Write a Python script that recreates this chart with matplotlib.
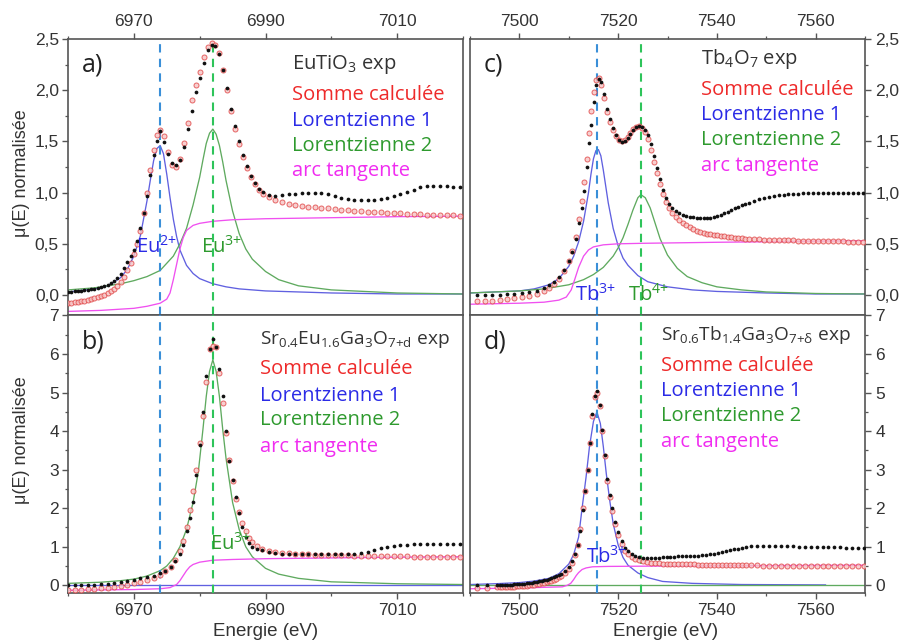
import matplotlib
matplotlib.use('Agg')
import matplotlib.pyplot as plt
from matplotlib.ticker import MultipleLocator, FuncFormatter

plt.rcParams['font.family'] = ['Liberation Sans', 'DejaVu Sans']
plt.rcParams['mathtext.default'] = 'regular'

# ---------------- DATA ----------------
# Panel a) EuTiO3
a_E = [6960, 6960.5, 6961, 6961.5, 6962, 6962.5, 6963, 6963.5, 6964, 6964.5,
       6965, 6965.5, 6966, 6966.5, 6967, 6967.5, 6968, 6968.5, 6969, 6969.5,
       6970, 6970.5, 6971, 6971.5, 6972, 6972.5, 6973, 6973.5, 6974,
       6974.6, 6975.2, 6975.8, 6976.4, 6977, 6977.6, 6978.2, 6978.8, 6979.4, 6980,
       6980.6, 6981.2, 6981.8, 6982.4, 6983, 6983.6, 6984.2, 6984.8, 6985.4, 6986,
       6986.6, 6987.2, 6987.8, 6988.4, 6989, 6989.6,
       6990.5, 6991.5, 6992.5, 6993.5, 6994.5, 6995.5, 6996.5, 6997.5, 6998.5, 6999.5,
       7000.5, 7001.5, 7002.5, 7003.5, 7004.5, 7005.5, 7006.5, 7007.5, 7008.5, 7009.5,
       7010.5, 7011.5, 7012.5, 7013.5, 7014.5, 7015.5, 7016.5, 7017.5, 7018.5, 7019.5]
a_exp = [0.03, 0.032, 0.035, 0.037, 0.04, 0.045, 0.05, 0.055, 0.06, 0.07,
         0.08, 0.09, 0.10, 0.12, 0.14, 0.17, 0.21, 0.26, 0.32, 0.38,
         0.44, 0.53, 0.65, 0.80, 0.97, 1.17, 1.37, 1.50, 1.60,
         1.49, 1.38, 1.29, 1.27, 1.32, 1.45, 1.62, 1.80, 1.98, 2.12,
         2.27, 2.39, 2.44, 2.43, 2.35, 2.20, 2.02, 1.82, 1.65, 1.50,
         1.37, 1.26, 1.16, 1.09, 1.04, 1.01,
         0.98, 0.97, 0.98, 0.99, 0.99, 1.00, 1.00, 1.00, 1.00, 0.99,
         0.97, 0.95, 0.94, 0.93, 0.93, 0.93, 0.93, 0.94, 0.95, 0.97,
         0.99, 1.01, 1.03, 1.05, 1.06, 1.06, 1.06, 1.06, 1.05, 1.05]
a_calc = [-0.08, -0.075, -0.07, -0.065, -0.06, -0.055, -0.05, -0.04, -0.03, -0.02,
          -0.01, 0.005, 0.02, 0.04, 0.06, 0.09, 0.13, 0.18, 0.24, 0.31,
          0.40, 0.50, 0.63, 0.80, 1.00, 1.22, 1.42, 1.56, 1.61,
          1.55, 1.40, 1.27, 1.25, 1.33, 1.48, 1.68, 1.90, 2.05, 2.18,
          2.32, 2.42, 2.46, 2.44, 2.36, 2.20, 2.00, 1.80, 1.62, 1.47,
          1.35, 1.24, 1.15, 1.08, 1.03, 0.99,
          0.96, 0.93, 0.91, 0.89, 0.88, 0.87, 0.86, 0.855, 0.85, 0.845,
          0.84, 0.835, 0.83, 0.825, 0.82, 0.815, 0.81, 0.81, 0.805, 0.80,
          0.80, 0.795, 0.79, 0.79, 0.785, 0.785, 0.78, 0.78, 0.78, 0.775]
a_L1_E = [6960, 6964, 6966, 6968, 6969, 6970, 6971, 6972, 6972.5, 6973, 6973.5, 6974,
          6974.5, 6975, 6975.5, 6976, 6976.5, 6977, 6978, 6979, 6980, 6982, 6984,
          6986, 6990, 7000, 7010, 7020]
a_L1 = [0.03, 0.06, 0.09, 0.17, 0.25, 0.38, 0.58, 0.92, 1.12, 1.31, 1.43, 1.46,
        1.38, 1.18, 0.95, 0.74, 0.57, 0.44, 0.29, 0.21, 0.16, 0.11, 0.08,
        0.06, 0.04, 0.02, 0.01, 0.01]
a_L2_E = [6960, 6964, 6968, 6970, 6972, 6974, 6976, 6977, 6978, 6979, 6980, 6980.5,
          6981, 6981.5, 6982, 6982.5, 6983, 6983.5, 6984, 6985, 6986, 6987, 6988,
          6990, 6992, 6995, 7000, 7010, 7020]
a_L2 = [0.05, 0.07, 0.11, 0.14, 0.18, 0.24, 0.38, 0.50, 0.65, 0.88, 1.15, 1.32,
        1.48, 1.58, 1.62, 1.57, 1.46, 1.30, 1.12, 0.82, 0.60, 0.45, 0.35,
        0.23, 0.15, 0.09, 0.05, 0.02, 0.01]
a_AT_E = [6960, 6965, 6970, 6972, 6974, 6975, 6975.5, 6976, 6976.5, 6977, 6977.5,
          6978, 6979, 6980, 6982, 6985, 6990, 7000, 7010, 7020]
a_AT = [-0.16, -0.15, -0.13, -0.11, -0.08, -0.04, 0.02, 0.15, 0.30, 0.45, 0.56,
        0.63, 0.68, 0.70, 0.72, 0.735, 0.745, 0.755, 0.765, 0.77]

# Panel b) Sr0.4Eu1.6Ga3O7+d
b_E = [6960, 6961, 6962, 6963, 6964, 6965, 6966, 6967, 6968, 6969,
       6970, 6971, 6972, 6973, 6974, 6974.8, 6975.6, 6976.3, 6977, 6977.5,
       6978, 6978.5, 6979, 6979.5, 6980, 6980.5, 6981, 6981.5, 6982, 6982.5,
       6983, 6983.5, 6984, 6984.5, 6985, 6985.5, 6986, 6986.5, 6987, 6987.5,
       6988, 6988.7, 6989.5, 6990.5, 6991.5, 6992.5, 6993.5, 6994.5, 6995.5, 6996.5,
       6997.5, 6998.5, 6999.5, 7000.5, 7001.5, 7002.5, 7003.5, 7004.5, 7005.5, 7006.5,
       7007.5, 7008.5, 7009.5, 7010.5, 7011.5, 7012.5, 7013.5, 7014.5, 7015.5, 7016.5,
       7017.5, 7018.5, 7019.5]
b_exp = [0.00, 0.00, 0.00, 0.01, 0.02, 0.03, 0.04, 0.06, 0.08, 0.11,
         0.15, 0.18, 0.21, 0.25, 0.31, 0.38, 0.48, 0.62, 0.80, 1.05,
         1.40, 1.75, 2.15, 2.85, 3.65, 4.50, 5.42, 6.13, 6.40, 6.17,
         5.62, 4.90, 4.00, 3.23, 2.73, 2.30, 1.88, 1.52, 1.26, 1.10,
         1.00, 0.95, 0.91, 0.86, 0.83, 0.81, 0.81, 0.80, 0.80, 0.80,
         0.80, 0.80, 0.80, 0.80, 0.81, 0.81, 0.81, 0.83, 0.87, 0.92,
         0.96, 0.99, 1.02, 1.04, 1.05, 1.06, 1.07, 1.07, 1.08, 1.08,
         1.08, 1.08, 1.08]
b_calc = [-0.13, -0.12, -0.11, -0.10, -0.09, -0.08, -0.06, -0.04, -0.02, 0.01,
          0.05, 0.09, 0.14, 0.20, 0.28, 0.36, 0.48, 0.65, 0.88, 1.15,
          1.50, 1.95, 2.45, 3.00, 3.70, 4.40, 5.27, 6.14, 6.22, 6.18,
          5.50, 4.74, 3.95, 3.25, 2.70, 2.25, 1.90, 1.62, 1.40, 1.24,
          1.12, 1.02, 0.95, 0.90, 0.87, 0.85, 0.83, 0.82, 0.81, 0.80,
          0.795, 0.79, 0.785, 0.78, 0.78, 0.775, 0.77, 0.77, 0.765, 0.76,
          0.76, 0.755, 0.75, 0.75, 0.75, 0.745, 0.745, 0.74, 0.74, 0.74,
          0.74, 0.74, 0.74]
b_L1_E = [6960, 6990, 7020]
b_L1 = [0.0, 0.0, 0.0]
b_L2_E = [6960, 6965, 6968, 6970, 6972, 6974, 6975, 6976, 6977, 6978, 6979, 6979.8,
          6980.5, 6981, 6981.5, 6982, 6982.5, 6983, 6983.5, 6984, 6985, 6986, 6987,
          6988, 6990, 6992, 6995, 7000, 7010, 7020]
b_L2 = [0.05, 0.08, 0.12, 0.16, 0.24, 0.38, 0.50, 0.70, 1.00, 1.45, 2.15, 2.95,
        4.05, 4.90, 5.55, 5.85, 5.55, 4.90, 4.05, 3.30, 2.15, 1.45, 1.00,
        0.74, 0.44, 0.29, 0.18, 0.09, 0.04, 0.02]
b_AT_E = [6960, 6970, 6974, 6975.5, 6976.5, 6977, 6977.5, 6978, 6978.5, 6979, 6980,
          6982, 6985, 6990, 7000, 7010, 7020]
b_AT = [-0.13, -0.11, -0.09, -0.06, 0.02, 0.12, 0.25, 0.38, 0.48, 0.54, 0.60,
        0.65, 0.67, 0.69, 0.71, 0.73, 0.74]

# Panel c) Tb4O7
c_E = [7491.5, 7493, 7494.5, 7496, 7497.5, 7499, 7500.5, 7502, 7503.5, 7505,
       7506, 7507, 7508, 7509, 7510, 7510.7, 7511.4, 7512, 7512.6, 7513.1,
       7513.6, 7514.1, 7514.6, 7515.1, 7515.6, 7516.1, 7516.6, 7517.1, 7517.7, 7518.3,
       7518.9, 7519.5, 7520.1, 7520.7, 7521.3, 7521.9, 7522.5, 7523.1, 7523.7, 7524.3,
       7524.9, 7525.5, 7526.1, 7526.7, 7527.3, 7527.9, 7528.5, 7529.1, 7529.7, 7530.3,
       7531, 7531.7, 7532.4, 7533.1, 7533.8, 7534.5, 7535.2, 7535.9, 7536.6, 7537.3,
       7538, 7538.7, 7539.4, 7540.1, 7540.8, 7541.5, 7542.2, 7542.9, 7543.6, 7544.3,
       7545, 7545.7, 7546.5, 7547.5, 7548.5, 7549.5, 7550.5, 7551.5, 7552.5, 7553.5,
       7554.5, 7555.5, 7556.5, 7557.5, 7558.5, 7559.5, 7560.5, 7561.5, 7562.5, 7563.5,
       7564.5, 7565.5, 7566.5, 7567.5, 7568.5, 7569.5]
c_exp = [0.00, 0.00, 0.00, 0.00, 0.01, 0.01, 0.02, 0.03, 0.04, 0.07,
         0.10, 0.13, 0.18, 0.24, 0.33, 0.42, 0.55, 0.70, 0.85, 1.02,
         1.25, 1.48, 1.66, 1.88, 2.05, 2.11, 2.08, 1.96, 1.82, 1.72,
         1.63, 1.56, 1.51, 1.49, 1.50, 1.53, 1.57, 1.61, 1.64, 1.65,
         1.64, 1.61, 1.56, 1.47, 1.36, 1.24, 1.13, 1.03, 0.95, 0.89,
         0.85, 0.82, 0.80, 0.78, 0.77, 0.765, 0.76, 0.755, 0.75, 0.75,
         0.75, 0.755, 0.76, 0.77, 0.785, 0.80, 0.815, 0.83, 0.845, 0.86,
         0.875, 0.89, 0.90, 0.92, 0.935, 0.95, 0.96, 0.97, 0.975, 0.98,
         0.985, 0.99, 0.99, 0.995, 0.995, 1.0, 1.0, 1.0, 1.0, 1.0,
         1.0, 1.0, 1.0, 1.0, 1.0, 1.0]
c_calc = [-0.06, -0.06, -0.055, -0.05, -0.04, -0.03, -0.02, -0.005, 0.01, 0.04,
          0.07, 0.11, 0.16, 0.23, 0.33, 0.43, 0.57, 0.74, 0.92, 1.10,
          1.33, 1.58, 1.80, 1.98, 2.10, 2.12, 2.05, 1.92, 1.79, 1.69,
          1.61, 1.55, 1.51, 1.50, 1.51, 1.54, 1.58, 1.62, 1.645, 1.65,
          1.63, 1.59, 1.52, 1.42, 1.30, 1.19, 1.08, 0.99, 0.91, 0.85,
          0.80, 0.76, 0.73, 0.70, 0.68, 0.66, 0.645, 0.63, 0.62, 0.61,
          0.60, 0.595, 0.59, 0.585, 0.58, 0.575, 0.57, 0.565, 0.56, 0.56,
          0.555, 0.55, 0.55, 0.545, 0.545, 0.54, 0.54, 0.54, 0.54, 0.535,
          0.535, 0.535, 0.53, 0.53, 0.53, 0.53, 0.53, 0.525, 0.525, 0.525,
          0.525, 0.525, 0.52, 0.52, 0.52, 0.52]
c_L1_E = [7490, 7495, 7500, 7503, 7506, 7508, 7510, 7511, 7512, 7513, 7514, 7514.5,
          7515, 7515.5, 7516, 7516.5, 7517, 7517.5, 7518, 7519, 7520, 7521, 7522,
          7524, 7526, 7530, 7535, 7540, 7550, 7560, 7570]
c_L1 = [0.02, 0.03, 0.04, 0.06, 0.10, 0.16, 0.28, 0.38, 0.52, 0.72, 1.00, 1.18,
        1.33, 1.41, 1.42, 1.36, 1.22, 1.06, 0.90, 0.65, 0.48, 0.36, 0.29,
        0.19, 0.13, 0.08, 0.05, 0.035, 0.02, 0.01, 0.01]
c_L2_E = [7490, 7500, 7505, 7510, 7513, 7515, 7517, 7519, 7520, 7521, 7522, 7523,
          7524, 7524.6, 7525.5, 7526.5, 7527.5, 7528.5, 7530, 7532, 7534, 7537,
          7540, 7545, 7550, 7560, 7570]
c_L2 = [0.02, 0.04, 0.06, 0.10, 0.15, 0.20, 0.27, 0.38, 0.46, 0.56, 0.69, 0.83,
        0.95, 0.98, 0.95, 0.85, 0.70, 0.55, 0.39, 0.26, 0.18, 0.12,
        0.08, 0.05, 0.03, 0.015, 0.01]
c_AT_E = [7490, 7500, 7505, 7508, 7509.5, 7510.5, 7511.2, 7512, 7513, 7514, 7515,
          7517, 7520, 7525, 7540, 7560, 7570]
c_AT = [-0.09, -0.08, -0.07, -0.05, -0.02, 0.05, 0.15, 0.27, 0.38, 0.44, 0.47,
        0.49, 0.50, 0.505, 0.515, 0.525, 0.53]

# Panel d) Sr0.6Tb1.4Ga3O7+delta
d_E = [7491.5, 7493.5,
       7495.5, 7496, 7496.5, 7497, 7497.5, 7498, 7498.5, 7499, 7499.5, 7500,
       7500.5, 7501, 7501.5, 7502, 7502.5, 7503, 7503.5, 7504, 7504.5, 7505,
       7505.5, 7506, 7506.5, 7507, 7507.5, 7508, 7508.5,
       7509.3, 7510, 7510.7, 7511.3,
       7511.8, 7512.3, 7512.8, 7513.3, 7513.8, 7514.3, 7514.8, 7515.3, 7515.8, 7516.3,
       7516.8, 7517.3, 7517.8, 7518.3, 7518.8, 7519.4, 7520, 7520.7, 7521.4, 7522.1,
       7522.8, 7523.5, 7524.2, 7525, 7525.8, 7526.6, 7527.4, 7528.2, 7529, 7529.8,
       7530.6, 7531.4, 7532.2, 7533, 7533.8, 7534.6, 7535.4, 7536.2, 7537, 7537.8,
       7538.6, 7539.4, 7540.2, 7541, 7541.8, 7542.6, 7543.4, 7544.2, 7545, 7545.8,
       7547, 7548.2, 7549.4, 7550.6, 7551.8, 7553, 7554.2, 7555.4, 7556.6, 7557.8,
       7559, 7560.2, 7561.4, 7562.6, 7563.8, 7565, 7566.2, 7567.4, 7568.6, 7569.8]
d_exp = [0.00, 0.00,
         0.01, 0.01, 0.01, 0.015, 0.02, 0.02, 0.02, 0.025, 0.03, 0.035,
         0.04, 0.045, 0.05, 0.06, 0.07, 0.08, 0.09, 0.10, 0.11, 0.125,
         0.14, 0.16, 0.18, 0.205, 0.23, 0.265, 0.30,
         0.38, 0.48, 0.62, 0.80,
         1.05, 1.40, 1.95, 2.45, 3.00, 3.70, 4.45, 4.90, 5.03, 4.68,
         4.03, 3.38, 2.75, 2.34, 2.00, 1.65, 1.38, 1.15, 0.98, 0.88,
         0.82, 0.77, 0.74, 0.72, 0.71, 0.71, 0.72, 0.72, 0.73, 0.73,
         0.74, 0.74, 0.75, 0.75, 0.76, 0.76, 0.77, 0.77, 0.78, 0.79,
         0.80, 0.82, 0.84, 0.86, 0.88, 0.91, 0.93, 0.95, 0.98, 1.00,
         1.01, 1.02, 1.02, 1.02, 1.02, 1.01, 1.01, 1.01, 1.00, 1.00,
         1.00, 1.00, 0.99, 0.99, 0.99, 0.99, 0.98, 0.98, 0.98, 0.98]
d_calc = [-0.06, -0.06,
          -0.05, -0.05, -0.05, -0.045, -0.04, -0.04, -0.04, -0.035, -0.03, -0.025,
          -0.02, -0.015, -0.01, 0.0, 0.01, 0.02, 0.03, 0.04, 0.05, 0.065,
          0.08, 0.10, 0.12, 0.145, 0.17, 0.205, 0.24,
          0.32, 0.43, 0.58, 0.78,
          1.05, 1.45, 2.00, 2.45, 3.00, 3.70, 4.40, 4.88, 5.00, 4.66,
          4.00, 3.36, 2.70, 2.28, 1.93, 1.58, 1.30, 1.06, 0.90, 0.80,
          0.73, 0.68, 0.65, 0.62, 0.60, 0.59, 0.58, 0.57, 0.565, 0.56,
          0.555, 0.55, 0.55, 0.545, 0.545, 0.54, 0.54, 0.535, 0.535, 0.53,
          0.53, 0.53, 0.525, 0.525, 0.525, 0.52, 0.52, 0.52, 0.52, 0.515,
          0.515, 0.515, 0.51, 0.51, 0.51, 0.51, 0.505, 0.505, 0.505, 0.505,
          0.50, 0.50, 0.50, 0.50, 0.50, 0.50, 0.50, 0.50, 0.50, 0.50]
d_L1_E = [7490, 7495, 7500, 7503, 7506, 7508, 7510, 7511, 7512, 7512.7, 7513.5,
          7514.2, 7515, 7515.7, 7516.4, 7517, 7517.6, 7518.3, 7519, 7520, 7521,
          7522, 7524, 7526, 7529, 7535, 7545, 7562]
d_L1 = [0.02, 0.04, 0.07, 0.11, 0.18, 0.30, 0.55, 0.80, 1.25, 2.00, 2.80,
        3.60, 4.25, 4.50, 4.20, 3.60, 2.90, 2.20, 1.60, 1.05, 0.72,
        0.52, 0.32, 0.20, 0.10, 0.05, 0.02, 0.01]
d_L2_E = [7490, 7530, 7570]
d_L2 = [0.0, 0.0, 0.0]
d_AT_E = [7490, 7500, 7508.7, 7509.7, 7510.4, 7511, 7511.5, 7512, 7512.7, 7513.5,
          7514.8, 7518, 7530, 7550, 7570]
d_AT = [-0.09, -0.07, -0.04, 0.00, 0.05, 0.15, 0.25, 0.33, 0.41, 0.45,
        0.48, 0.49, 0.50, 0.51, 0.52]

# Peak positions (dashed lines)
eu_peaks = [6974.0, 6982.0]
tb_peaks = [7515.8, 7524.6]

legend_labels = ['Somme calculée', 'Lorentzienne 1', 'Lorentzienne 2', 'arc tangente']
titles = [r'EuTiO$_3$ exp', r'Sr$_{0.4}$Eu$_{1.6}$Ga$_3$O$_{7{+}d}$ exp',
          r'Tb$_4$O$_7$ exp', r'Sr$_{0.6}$Tb$_{1.4}$Ga$_3$O$_{7{+}\delta}$ exp']
title_sizes = [14.5, 13.8, 14.5, 13.8]
panel_letters = ['a)', 'b)', 'c)', 'd)']

# ---------------- STYLE ----------------
C_BLACK = '#111111'
C_RED = '#e04444'
C_L1 = '#6060e0'
C_L2 = '#5faa5f'
C_AT = '#f050f0'
C_DASH_B = '#3a8fd8'
C_DASH_G = '#2ec45a'
T_RED = '#ee2a2a'
T_BLUE = '#2b2be6'
T_GREEN = '#2e9a2e'
T_MAG = '#f02cf0'
SPINE = '#555555'
TXT = '#333333'
LEG_FONT = ['Open Sans', 'DejaVu Sans']
LEG_SIZE = 14.5

W, H = 901, 641
fig = plt.figure(figsize=(W / 100, H / 100), dpi=100)


def rect(x0, y0, x1, y1):
    return [x0 / W, 1 - y1 / H, (x1 - x0) / W, (y1 - y0) / H]


ax_a = fig.add_axes(rect(68, 39, 463, 315.5))
ax_b = fig.add_axes(rect(68, 315.5, 463, 593))
ax_c = fig.add_axes(rect(470, 39, 865, 315.5))
ax_d = fig.add_axes(rect(470, 315.5, 865, 593))

comma_fmt = FuncFormatter(lambda v, p: ('%.1f' % v).replace('.', ','))
int_fmt = FuncFormatter(lambda v, p: '%d' % round(v))


def draw(ax, E, exp, calc, l1E, l1, l2E, l2, atE, at, peaks):
    ax.plot(l1E, l1, color=C_L1, lw=0.95, zorder=2)
    ax.plot(l2E, l2, color=C_L2, lw=0.95, zorder=2)
    ax.plot(atE, at, color=C_AT, lw=0.95, zorder=2)
    ax.axvline(peaks[0], color=C_DASH_B, lw=1.5, ls=(0, (4, 3)), zorder=3)
    ax.axvline(peaks[1], color=C_DASH_G, lw=1.5, ls=(0, (4, 3)), zorder=3)
    ax.plot(E, calc, ls='none', marker='o', ms=3.6, mfc='#f7c4c4', mec=C_RED,
            mew=0.7, alpha=0.8, zorder=4)
    ax.plot(E, exp, ls='none', marker='o', ms=2.7, color=C_BLACK, mew=0, zorder=5)


draw(ax_a, a_E, a_exp, a_calc, a_L1_E, a_L1, a_L2_E, a_L2, a_AT_E, a_AT, eu_peaks)
draw(ax_b, b_E, b_exp, b_calc, b_L1_E, b_L1, b_L2_E, b_L2, b_AT_E, b_AT, eu_peaks)
draw(ax_c, c_E, c_exp, c_calc, c_L1_E, c_L1, c_L2_E, c_L2, c_AT_E, c_AT, tb_peaks)
draw(ax_d, d_E, d_exp, d_calc, d_L1_E, d_L1, d_L2_E, d_L2, d_AT_E, d_AT, tb_peaks)

for ax in (ax_a, ax_b):
    ax.set_xlim(6960, 7020)
for ax in (ax_c, ax_d):
    ax.set_xlim(7490, 7570)
for ax in (ax_a, ax_c):
    ax.set_ylim(-0.2, 2.5)
    ax.yaxis.set_major_locator(MultipleLocator(0.5))
    ax.yaxis.set_minor_locator(MultipleLocator(0.25))
    ax.yaxis.set_major_formatter(comma_fmt)
for ax in (ax_b, ax_d):
    ax.set_ylim(-0.2, 7)
    ax.yaxis.set_major_locator(MultipleLocator(1))
    ax.yaxis.set_minor_locator(MultipleLocator(0.5))
    ax.yaxis.set_major_formatter(int_fmt)

for ax in (ax_a, ax_b):
    ax.xaxis.set_major_locator(MultipleLocator(20, offset=10))
    ax.xaxis.set_minor_locator(MultipleLocator(10))
for ax in (ax_c, ax_d):
    ax.xaxis.set_major_locator(MultipleLocator(20))
    ax.xaxis.set_minor_locator(MultipleLocator(10))

for ax in (ax_a, ax_b, ax_c, ax_d):
    for s in ax.spines.values():
        s.set_color(SPINE)
        s.set_linewidth(1.2)
    ax.tick_params(which='both', direction='out', colors=SPINE, labelcolor=TXT,
                   labelsize=12.5)
    ax.tick_params(which='major', length=4.5, width=1.0)
    ax.tick_params(which='minor', length=2.5, width=0.9)

ax_a.tick_params(axis='x', which='both', top=True, bottom=False, labeltop=True,
                 labelbottom=False, pad=3)
ax_c.tick_params(axis='x', which='both', top=True, bottom=False, labeltop=True,
                 labelbottom=False, pad=3)
ax_b.tick_params(axis='x', which='both', top=False, bottom=True, labeltop=False,
                 labelbottom=True, pad=3)
ax_d.tick_params(axis='x', which='both', top=False, bottom=True, labeltop=False,
                 labelbottom=True, pad=3)
for ax in (ax_a, ax_b):
    ax.tick_params(axis='y', which='both', left=True, right=False, labelleft=True,
                   labelright=False, pad=2)
for ax in (ax_c, ax_d):
    ax.tick_params(axis='y', which='both', left=False, right=True, labelleft=False,
                   labelright=True, pad=3)

# legend-like texts
leg_pos = {
    'a': (ax_a, 6994.1, [2.25, 1.95, 1.70, 1.46, 1.21]),
    'b': (ax_b, 6989.2, [6.37, 5.60, 4.92, 4.28, 3.60]),
    'c': (ax_c, 7536.8, [2.30, 2.00, 1.76, 1.51, 1.26]),
    'd': (ax_d, 7528.7, [6.50, 5.70, 5.03, 4.38, 3.71]),
}
leg_cols = [TXT, T_RED, T_BLUE, T_GREEN, T_MAG]
for i, key in enumerate('abcd'):
    ax, x0, ys = leg_pos[key]
    labels = [titles[i]] + legend_labels
    sizes = [title_sizes[i]] + [LEG_SIZE] * 4
    for lab, yy, col, fs in zip(labels, ys, leg_cols, sizes):
        ax.text(x0, yy, lab, color=col, fontsize=fs, family=LEG_FONT,
                ha='left', va='center', zorder=6)
    ax.text(0.035, 0.905, panel_letters[i], transform=ax.transAxes, fontsize=18,
            family=LEG_FONT, color='#222222', ha='left', va='center')

# ion annotations
ann = [
    (ax_a, 6970.3, 0.47, r'Eu$^{2{+}}$', T_BLUE),
    (ax_a, 6980.2, 0.47, r'Eu$^{3{+}}$', T_GREEN),
    (ax_b, 6981.6, 1.08, r'Eu$^{3{+}}$', T_GREEN),
    (ax_c, 7511.25, 0.0, r'Tb$^{3{+}}$', T_BLUE),
    (ax_c, 7522.0, 0.0, r'Tb$^{4{+}}$', T_GREEN),
    (ax_d, 7513.4, 0.74, r'Tb$^{3{+}}$', T_BLUE),
]
for ax, x, y, s, col in ann:
    ax.text(x, y, s, color=col, fontsize=LEG_SIZE, family=LEG_FONT,
            ha='left', va='center', zorder=6)

# axis labels
fig.text(22 / W, 1 - 173 / H, 'μ(E) normalisée', rotation=90, ha='center',
         va='center', fontsize=13, color=TXT)
fig.text(22 / W, 1 - 440 / H, 'μ(E) normalisée', rotation=90, ha='center',
         va='center', fontsize=13, color=TXT)
fig.text(266 / W, 1 - 631 / H, 'Energie (eV)', ha='center', va='center',
         fontsize=13.5, color=TXT)
fig.text(666 / W, 1 - 631 / H, 'Energie (eV)', ha='center', va='center',
         fontsize=13.5, color=TXT)

fig.savefig('out.png', dpi=100)
